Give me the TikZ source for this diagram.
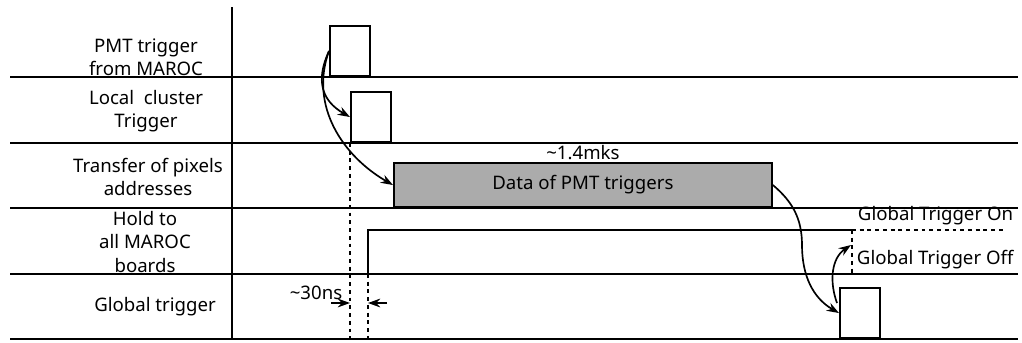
\documentclass[tikz,border=0pt]{standalone}
\usepackage{fontspec}
\setmainfont{Noto Sans}
\usetikzlibrary{arrows.meta, positioning}

\begin{document}
\begin{tikzpicture}[
  x=0.02cm, y=-0.02cm,
  line width=1.1pt,
  font=\fontsize{10.6}{13.4}\selectfont,
  rowlabel/.style={align=center, inner sep=0pt},
  pulse/.style={draw, fill=white, anchor=south west, inner sep=0pt,
    minimum width=0.8cm, minimum height=1cm},
  databox/.style={draw, fill=black!33, anchor=south west, inner sep=0pt,
    minimum width=7.56cm, minimum height=0.88cm},
  guide/.style={dash pattern=on 2.2pt off 2.2pt, line width=0.9pt},
  link/.style={-{Stealth[length=7pt,width=5pt]}, line width=0.95pt}]

  \useasboundingbox (0,0) rectangle (1022,342);

  % frame
  \draw (232,7) -- (232,339);
  \foreach \y in {77,143,208,274}
    \draw (10,\y) -- (1018,\y);
  \draw[line width=1.7pt] (10,339) -- (1018,339);

  % row names
  \node[rowlabel] (lab1) at (146,57) {PMT trigger\\from MAROC};
  \node[rowlabel] (lab2) at (146,111) {Local\ \ cluster\\Trigger};
  \node[rowlabel] (lab3) at (148,177) {Transfer of pixels\\addresses};
  \node[rowlabel] (lab4) at (145,242) {Hold to\\all MAROC\\boards};
  \node[rowlabel] (lab5) at (155,307) {Global trigger};

  % signals
  \node[pulse] (pmt) at (329,77) {};
  \node[pulse] (lct) at (350,143) {};
  \node[databox] (data) at (393,208) {Data of PMT triggers};
  \node[above=1pt of data, inner sep=0pt] (dur) {\textasciitilde1.4mks};
  \node[pulse] (glob) at (839,339) {};

  \draw (368,274) |- (852,230) coordinate (hold);
  \coordinate (on) at (1006,230);
  \coordinate (off) at (852,274);
  \draw[guide] (hold) -- (on);
  \draw[guide] (hold) -- (off);
  \node[anchor=south west, inner sep=0pt] (onlab) at (857,226) {Global Trigger On};
  \node[anchor=south west, inner sep=0pt] (offlab) at (856,270) {Global Trigger Off};

  % delay
  \draw[guide] (lct.south west) -- (350,339);
  \draw[guide] (368,274) -- (368,339);
  \coordinate (d1) at (350,303);
  \coordinate (d2) at (368,303);
  \draw[link] (331,303) -- (d1);
  \draw[link] (387,303) -- (d2);
  \node[inner sep=0pt] (delay) at (316,293) {\textasciitilde30ns};

  % causality
  \draw[link] (pmt.west) to[out=245, in=150, looseness=1.2] (lct.west);
  \draw[link] (pmt.west) to[out=250, in=150] (data.west);
  \draw[link] (data.east) to[out=-40, in=90] (802,245) to[out=-90, in=150] (glob.west);
  \coordinate (gt) at (837,303);
  \coordinate (sw) at (851,245);
  \draw[link] (gt) to[out=110, in=214] (sw);
\end{tikzpicture}
\end{document}
